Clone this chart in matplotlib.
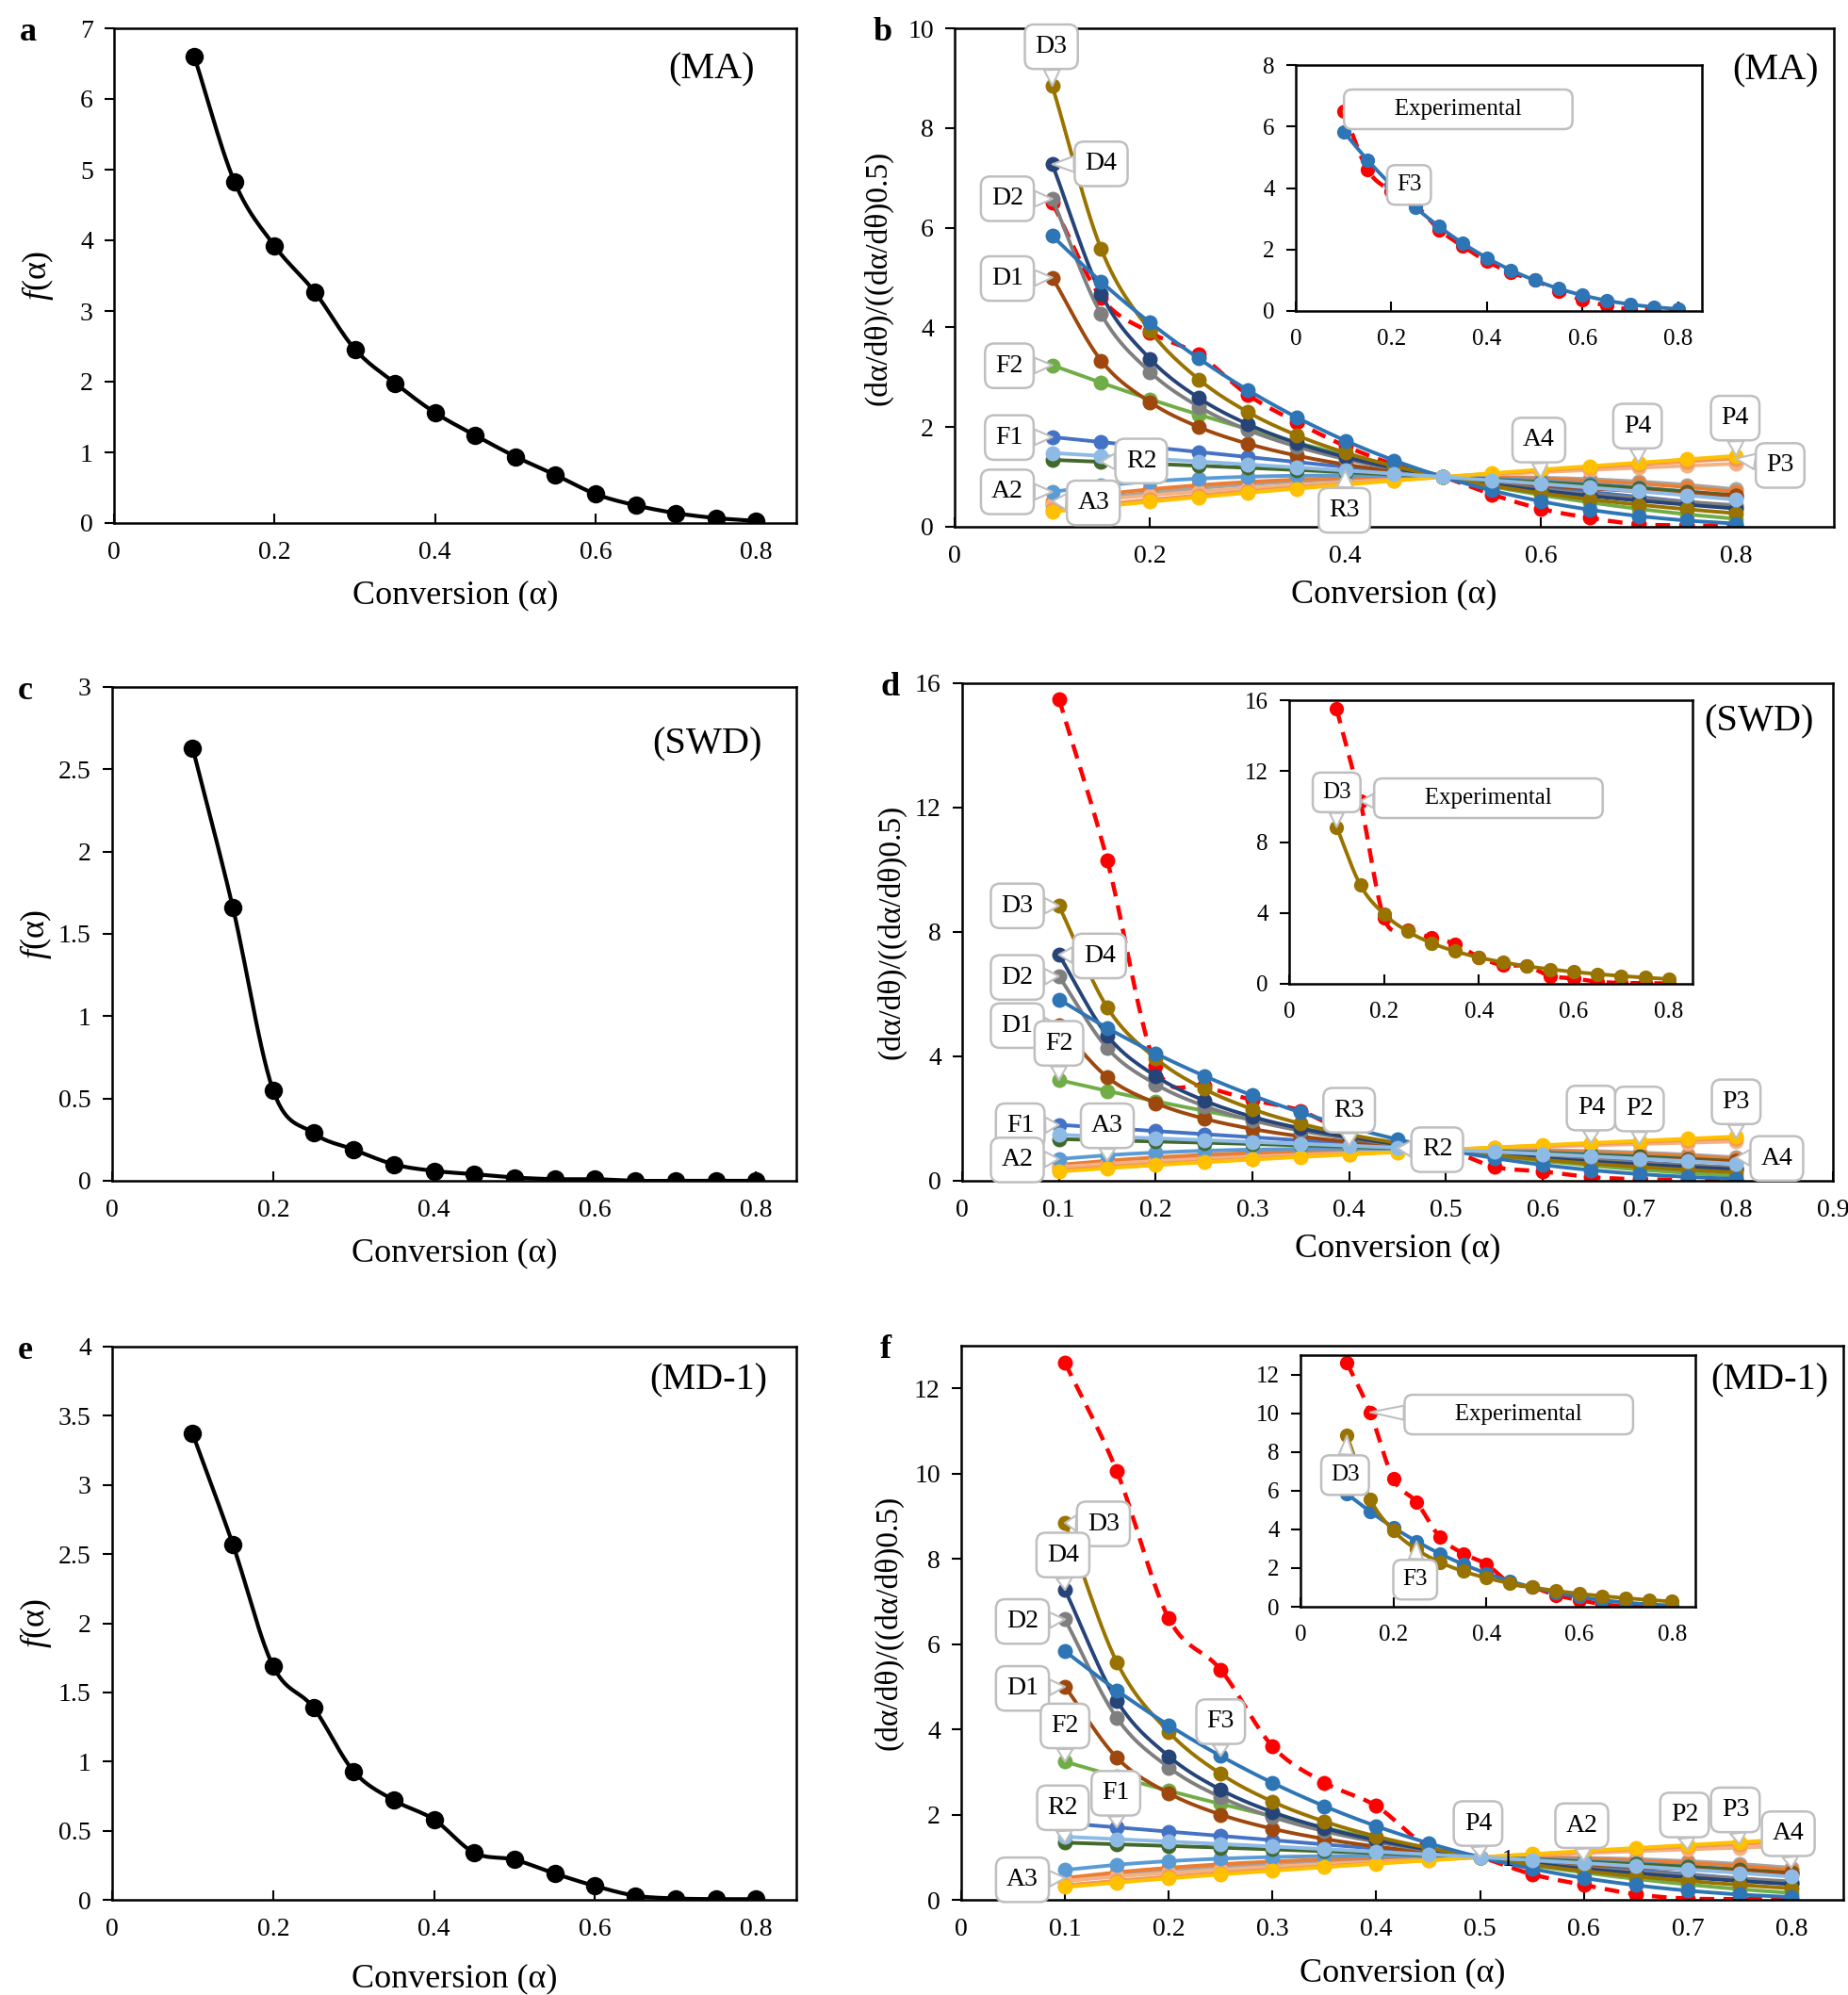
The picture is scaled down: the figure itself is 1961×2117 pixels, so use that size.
import numpy as np
import matplotlib
matplotlib.use('Agg')
import matplotlib.pyplot as plt
from matplotlib.ticker import MultipleLocator, FuncFormatter

plt.rcParams['font.family'] = ['Liberation Serif', 'DejaVu Serif']
plt.rcParams['mathtext.fontset'] = 'custom'
plt.rcParams['mathtext.it'] = 'Liberation Serif:italic'
plt.rcParams['mathtext.rm'] = 'Liberation Serif'

alpha = [0.1, 0.15, 0.2, 0.25, 0.3, 0.35, 0.4, 0.45, 0.5, 0.55, 0.6, 0.65, 0.7, 0.75, 0.8]

# f(alpha) of the three samples (panels a, c, e)
f_ma = [6.6, 4.83, 3.92, 3.27, 2.46, 1.98, 1.56, 1.24, 0.94, 0.68, 0.41, 0.25, 0.14, 0.07, 0.03]
f_swd = [2.63, 1.66, 0.55, 0.29, 0.19, 0.10, 0.06, 0.04, 0.02, 0.01, 0.01, 0.0, 0.0, 0.0, 0.0]
f_md1 = [3.37, 2.57, 1.69, 1.39, 0.93, 0.72, 0.58, 0.34, 0.29, 0.19, 0.10, 0.03, 0.01, 0.005, 0.005]

# experimental master plots (panels b, d, f)
exp_ma = [6.5, 4.6, 3.9, 3.45, 2.65, 2.1, 1.62, 1.25, 1.0, 0.65, 0.36, 0.18, 0.05, 0.03, 0.01]
exp_swd = [15.5, 10.3, 3.7, 3.05, 2.6, 2.25, 1.5, 1.05, 1.0, 0.45, 0.3, 0.12, 0.05, 0.04, 0.02]
exp_md1 = [12.6, 10.05, 6.6, 5.4, 3.6, 2.75, 2.2, 1.25, 1.0, 0.6, 0.35, 0.13, 0.03, 0.02, 0.01]

# theoretical master plots of the kinetic models
D1 = [5.0, 3.333, 2.5, 2.0, 1.667, 1.429, 1.25, 1.111, 1.0, 0.909, 0.833, 0.769, 0.714, 0.667, 0.625]
D2 = [6.579, 4.265, 3.106, 2.409, 1.943, 1.609, 1.357, 1.159, 1.0, 0.868, 0.756, 0.660, 0.576, 0.500, 0.431]
D3 = [8.845, 5.573, 3.937, 2.956, 2.303, 1.837, 1.488, 1.217, 1.0, 0.823, 0.675, 0.551, 0.444, 0.351, 0.270]
D4 = [7.272, 4.670, 3.367, 2.583, 2.059, 1.683, 1.400, 1.179, 1.0, 0.852, 0.728, 0.620, 0.526, 0.442, 0.366]
F1 = [1.8, 1.7, 1.6, 1.5, 1.4, 1.3, 1.2, 1.1, 1.0, 0.9, 0.8, 0.7, 0.6, 0.5, 0.4]
F2 = [3.24, 2.89, 2.56, 2.25, 1.96, 1.69, 1.44, 1.21, 1.0, 0.81, 0.64, 0.49, 0.36, 0.25, 0.16]
F3 = [5.832, 4.913, 4.096, 3.375, 2.744, 2.197, 1.728, 1.331, 1.0, 0.729, 0.512, 0.343, 0.216, 0.125, 0.064]
R2 = [1.342, 1.304, 1.265, 1.225, 1.183, 1.140, 1.095, 1.049, 1.0, 0.949, 0.894, 0.837, 0.775, 0.707, 0.632]
R3 = [1.480, 1.424, 1.368, 1.310, 1.251, 1.191, 1.129, 1.066, 1.0, 0.932, 0.862, 0.788, 0.711, 0.630, 0.543]
A2 = [0.702, 0.823, 0.908, 0.966, 1.004, 1.025, 1.030, 1.022, 1.0, 0.966, 0.920, 0.861, 0.791, 0.707, 0.610]
A3 = [0.513, 0.646, 0.752, 0.835, 0.899, 0.947, 0.979, 0.997, 1.0, 0.989, 0.964, 0.923, 0.867, 0.794, 0.701]
A4 = [0.438, 0.573, 0.684, 0.775, 0.850, 0.910, 0.954, 0.984, 1.0, 1.001, 0.986, 0.956, 0.908, 0.841, 0.752]
P2 = [0.447, 0.548, 0.632, 0.707, 0.775, 0.837, 0.894, 0.949, 1.0, 1.049, 1.095, 1.140, 1.183, 1.225, 1.265]
P3 = [0.342, 0.448, 0.543, 0.630, 0.711, 0.788, 0.862, 0.932, 1.0, 1.066, 1.129, 1.191, 1.251, 1.310, 1.368]
P4 = [0.299, 0.405, 0.503, 0.595, 0.682, 0.765, 0.846, 0.924, 1.0, 1.074, 1.147, 1.217, 1.287, 1.355, 1.423]

model_names = ['A4', 'A3', 'P2', 'P3', 'A2', 'F1', 'R2', 'F2', 'D1', 'D2', 'D4', 'D3', 'F3', 'P4', 'R3']
model_values = [A4, A3, P2, P3, A2, F1, R2, F2, D1, D2, D4, D3, F3, P4, R3]
model_colors = ['#A5A5A5', '#ED7D31', '#F4B183', '#F1975A', '#5B9BD5', '#4472C4', '#43682B',
                '#70AD47', '#9E480E', '#7F7F7F', '#264478', '#997300', '#2E75B6', '#FFC000', '#8DBBE6']
series = dict(zip(model_names, model_values))
colors = dict(zip(model_names, model_colors))
colors['exp'] = '#FF0000'

W, H = 1961, 2117
fig = plt.figure(figsize=(W / 100, H / 100), dpi=100)


def px_axes(l, t, r, b):
    return fig.add_axes([l / W, 1 - b / H, (r - l) / W, (b - t) / H])


def smooth(x, y, n=14):
    # Catmull-Rom path through the points, like Excel's smoothed line
    x = np.asarray(x, float)
    y = np.asarray(y, float)
    px = np.concatenate([[2 * x[0] - x[1]], x, [2 * x[-1] - x[-2]]])
    py = np.concatenate([[2 * y[0] - y[1]], y, [2 * y[-1] - y[-2]]])
    t = np.linspace(0, 1, n, endpoint=False)[:, None]
    out_x, out_y = [], []
    for i in range(1, len(px) - 2):
        for p, out in ((px, out_x), (py, out_y)):
            p0, p1, p2, p3 = p[i - 1], p[i], p[i + 1], p[i + 2]
            seg = 0.5 * (2 * p1 + (-p0 + p2) * t + (2 * p0 - 5 * p1 + 4 * p2 - p3) * t ** 2
                         + (-p0 + 3 * p1 - 3 * p2 + p3) * t ** 3)
            out.extend(seg.ravel())
    out_x.append(x[-1])
    out_y.append(y[-1])
    return out_x, out_y


def style(ax, xmax, xstep, ymax, ystep, fs=20):
    ax.set_xlim(0, xmax)
    ax.set_ylim(0, ymax)
    ax.xaxis.set_major_locator(MultipleLocator(xstep))
    ax.yaxis.set_major_locator(MultipleLocator(ystep))
    fmt = FuncFormatter(lambda v, p: '%g' % round(v, 3))
    ax.xaxis.set_major_formatter(fmt)
    ax.yaxis.set_major_formatter(fmt)
    ax.tick_params(axis='x', direction='in', length=7, width=1.5, pad=14, labelsize=fs)
    ax.tick_params(axis='y', direction='out', length=7, width=1.5, pad=9, labelsize=fs)
    for s in ax.spines.values():
        s.set_linewidth(1.8)


def draw_series(ax, name, vals, ms=11.5, lw=2.8):
    c = colors[name]
    sx, sy = smooth(alpha, vals)
    if name == 'exp':
        ax.plot(sx, sy, color=c, lw=lw + 0.4, ls=(0, (3.5, 2.2)))
    else:
        ax.plot(sx, sy, color=c, lw=lw)
    ax.plot(alpha, vals, 'o', color=c, ms=ms, mew=0)


def callout(ax, text, name, idx, tx, ty, fs=20):
    vals = series[name]
    ax.annotate(text, xy=(alpha[idx], vals[idx]), xytext=(tx, ty), ha='center', va='center',
                fontsize=fs, zorder=20,
                bbox=dict(boxstyle='round,pad=0.4,rounding_size=0.35', fc='white', ec='#BFBFBF', lw=1.8),
                arrowprops=dict(arrowstyle='wedge,tail_width=0.6,shrink_factor=0.5', fc='white',
                                ec='#BFBFBF', lw=1.5, shrinkA=0, shrinkB=0))


# left column: f(alpha)
left = [
    ('a', f_ma, '(MA)', (121, 30, 845, 555), 7, 1, (0.875, 0.916)),
    ('c', f_swd, '(SWD)', (119, 729, 845, 1253), 3, 0.5, (0.870, 0.884)),
    ('e', f_md1, '(MD-1)', (119, 1429, 845, 2016), 4, 0.5, (0.872, 0.939)),
]
for letter, vals, tag, rect, ymax, ystep, tpos in left:
    ax = px_axes(*rect)
    style(ax, 0.85, 0.2, ymax, ystep)
    sx, sy = smooth(alpha, vals)
    ax.plot(sx, sy, color='black', lw=3.0)
    ax.plot(alpha, vals, 'o', color='black', ms=14, mew=0)
    ax.text(tpos[0], tpos[1], tag, transform=ax.transAxes, ha='center', va='center', fontsize=29)
    ax.set_xlabel('Conversion (α)', fontsize=26)
    ax.set_ylabel(r'$f$(α)', fontsize=26)
    ax.xaxis.set_label_coords(0.5, -0.115)
    ax.yaxis.set_label_coords(-0.085, 0.5)
    fig.text((rect[0] - 100) / W, 1 - (rect[1] - 12) / H, letter, fontsize=26, fontweight='bold',
             ha='left', va='top')

# right column: master plots
exp_text = '       Experimental       '
r_specs = {
    'b': dict(rect=(1013, 30, 1946, 559), xmax=0.9, xstep=0.2, ymax=10, ystep=2, exp=exp_ma,
              tag='(MA)', tpos=(0.934, 0.916), ylab=-0.07,
              inset=(1375, 69, 1806, 330), iymax=8, iystep=2, iseries=['F3'],
              calls=[('D3', 'D3', 0, 0.099, 9.63), ('D4', 'D4', 0, 0.15, 7.28),
                     ('D2', 'D2', 0, 0.054, 6.58), ('D1', 'D1', 0, 0.054, 4.98),
                     ('F2', 'F2', 0, 0.056, 3.23), ('F1', 'F1', 0, 0.056, 1.79),
                     ('R2', 'R2', 1, 0.191, 1.32), ('A2', 'A2', 0, 0.054, 0.70),
                     ('A3', 'A3', 0, 0.142, 0.48), ('R3', 'R3', 6, 0.399, 0.33),
                     ('A4', 'A4', 10, 0.598, 1.74), ('P4', 'P4', 12, 0.699, 2.02),
                     ('P4', 'P4', 14, 0.799, 2.18), ('P3', 'P3', 14, 0.845, 1.23)],
              icalls=[(exp_text, 'exp', 0, 0.34, 6.56), ('F3', 'F3', 2, 0.237, 4.1)]),
    'd': dict(rect=(1021, 725, 1945, 1253), xmax=0.9, xstep=0.1, ymax=16, ystep=4, exp=exp_swd,
              tag='(SWD)', tpos=(0.915, 0.922), ylab=-0.064,
              inset=(1368, 743, 1796, 1044), iymax=16, iystep=4, iseries=['D3'],
              calls=[('D3', 'D3', 0, 0.057, 8.84), ('D4', 'D4', 0, 0.142, 7.23),
                     ('D2', 'D2', 0, 0.057, 6.54), ('D1', 'D1', 0, 0.057, 4.99),
                     ('F2', 'F2', 0, 0.100, 4.42), ('F1', 'F1', 0, 0.060, 1.77),
                     ('A3', 'A3', 1, 0.150, 1.77), ('A2', 'A2', 0, 0.057, 0.67),
                     ('R3', 'R3', 6, 0.400, 2.27), ('R2', 'R2', 7, 0.491, 1.0),
                     ('P4', 'P4', 11, 0.650, 2.34), ('P2', 'P2', 12, 0.700, 2.31),
                     ('P3', 'P3', 14, 0.800, 2.54), ('A4', 'A4', 14, 0.842, 0.72)],
              icalls=[('D3', 'D3', 0, 0.1, 10.8), (exp_text, 'exp', 1, 0.42, 10.47)]),
    'f': dict(rect=(1020, 1428, 1956, 2016), xmax=0.85, xstep=0.1, ymax=13, ystep=2, exp=exp_md1,
              tag='(MD-1)', tpos=(0.916, 0.937), ylab=-0.066,
              inset=(1380, 1438, 1799, 1705), iymax=13, iystep=2, iseries=['F3', 'D3'],
              calls=[('D3', 'D3', 0, 0.137, 8.82), ('D4', 'D4', 0, 0.098, 8.09),
                     ('D2', 'D2', 0, 0.059, 6.53), ('D1', 'D1', 0, 0.059, 4.96),
                     ('F2', 'F2', 0, 0.100, 4.08), ('F1', 'F1', 1, 0.149, 2.5),
                     ('R2', 'R2', 0, 0.098, 2.16), ('A3', 'A3', 0, 0.059, 0.47),
                     ('F3', 'F3', 3, 0.25, 4.18), ('P4', 'P4', 8, 0.498, 1.79),
                     ('A2', 'A2', 10, 0.598, 1.74), ('P2', 'P2', 12, 0.697, 1.99),
                     ('P3', 'P3', 13, 0.746, 2.11), ('A4', 'A4', 14, 0.797, 1.55)],
              icalls=[(exp_text, 'exp', 1, 0.47, 9.93), ('D3', 'D3', 0, 0.096, 6.8),
                      ('F3', 'F3', 3, 0.247, 1.4)]),
}

for letter, sp in r_specs.items():
    series['exp'] = sp['exp']
    rect = sp['rect']
    ax = px_axes(*rect)
    style(ax, sp['xmax'], sp['xstep'], sp['ymax'], sp['ystep'])
    draw_series(ax, 'exp', sp['exp'])
    for name in model_names:
        draw_series(ax, name, series[name])
    for c in sp['calls']:
        callout(ax, *c)
    if letter == 'f':
        ax.text(0.527, 0.92, '1', fontsize=18, ha='center', va='center', zorder=15)
    ax.text(sp['tpos'][0], sp['tpos'][1], sp['tag'], transform=ax.transAxes,
            ha='center', va='center', fontsize=29)
    ax.set_xlabel('Conversion (α)', fontsize=26)
    ax.set_ylabel('(dα/dθ)/((dα/dθ)0.5)', fontsize=24)
    ax.xaxis.set_label_coords(0.5, -0.105)
    ax.yaxis.set_label_coords(sp['ylab'], 0.5)
    fig.text((rect[0] - 86) / W, 1 - (rect[1] - 12) / H, letter, fontsize=26, fontweight='bold',
             ha='left', va='top')

    ins = px_axes(*sp['inset'])
    ins.set_facecolor('white')
    style(ins, 0.85, 0.2, sp['iymax'], sp['iystep'], fs=18)
    draw_series(ins, 'exp', sp['exp'], ms=11)
    for name in sp['iseries']:
        draw_series(ins, name, series[name], ms=11)
    for c in sp['icalls']:
        callout(ins, *c, fs=18)

fig.savefig('out.png', dpi=100)
